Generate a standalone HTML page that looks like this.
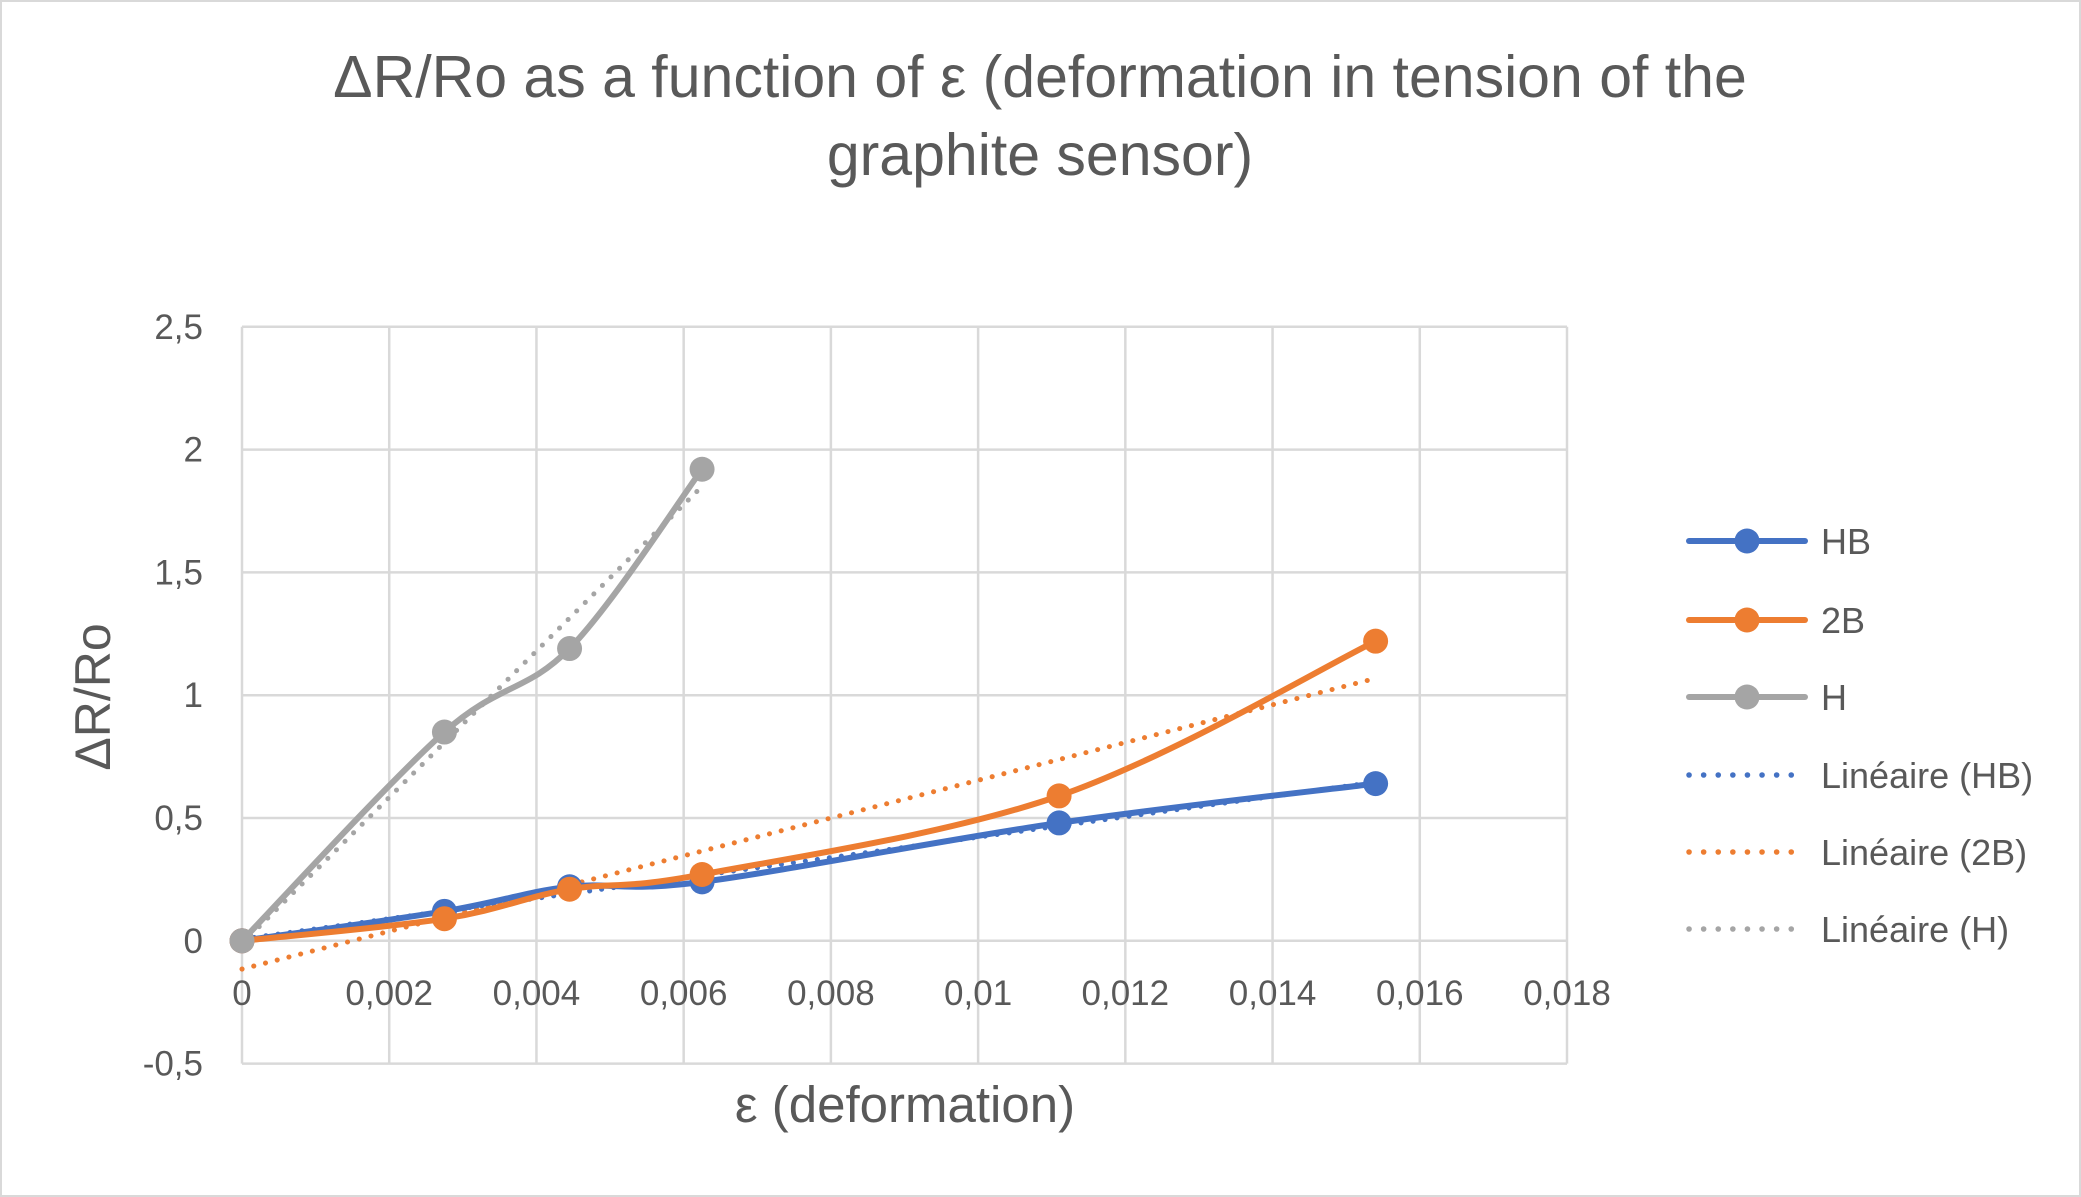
<!DOCTYPE html>
<html><head><meta charset="utf-8"><style>
html,body{margin:0;padding:0;background:#fff;}
svg{display:block;font-family:"Liberation Sans",sans-serif;}
</style></head><body>
<svg id="chart" width="2081" height="1197" viewBox="0 0 2081 1197">
<rect x="1" y="1" width="2079" height="1195" fill="#fff" stroke="#d9d9d9" stroke-width="2"/>
<text x="1040" y="97" text-anchor="middle" font-size="59" fill="#595959">ΔR/Ro as a function of ε (deformation in tension of the</text>
<text x="1040" y="175" text-anchor="middle" font-size="59" fill="#595959">graphite sensor)</text>
<g id="grid"></g>
<g id="series"></g>
<text x="905" y="1122" text-anchor="middle" font-size="51" fill="#595959">ε (deformation)</text>
<text transform="translate(110,697) rotate(-90)" text-anchor="middle" font-size="50" fill="#595959">ΔR/Ro</text>
<g id="legend"></g>
</svg>
<script>
const xTicks=[0,0.002,0.004,0.006,0.008,0.01,0.012,0.014,0.016,0.018];
const xTickLabels=["0","0,002","0,004","0,006","0,008","0,01","0,012","0,014","0,016","0,018"];
const yTicks=[-0.5,0,0.5,1,1.5,2,2.5];
const yTickLabels=["-0,5","0","0,5","1","1,5","2","2,5"];
const hbX=[0,0.00275,0.00445,0.00625,0.0111,0.0154];
const hbY=[0,0.12,0.22,0.24,0.48,0.64];
const b2X=[0,0.00275,0.00445,0.00625,0.0111,0.0154];
const b2Y=[0,0.09,0.21,0.27,0.59,1.22];
const hX=[0,0.00275,0.00445,0.00625];
const hY=[0,0.85,1.19,1.92];
const seriesNames=["HB","2B","H"];
const trendNames=["Linéaire (HB)","Linéaire (2B)","Linéaire (H)"];
const colors=["#4472c4","#ed7d31","#a5a5a5"];

const X0=242,X1=1567,Y0=940.8,YSTEP=122.8;
const sx=v=>X0+(v/0.018)*(X1-X0);
const sy=v=>Y0-(v/0.5)*YSTEP;
const NS="http://www.w3.org/2000/svg";
function mk(t,a,p){const e=document.createElementNS(NS,t);for(const k in a)e.setAttribute(k,a[k]);p.appendChild(e);return e;}
const grid=document.getElementById('grid'),ser=document.getElementById('series'),leg=document.getElementById('legend');
xTicks.forEach((t,i)=>{
 const l=mk('line',{x1:sx(t),x2:sx(t),y1:sy(2.5),y2:sy(-0.5),stroke:'#d9d9d9','stroke-width':2.5},grid);
 
 
 const tx=mk('text',{x:sx(t),y:Y0+64,'text-anchor':'middle','font-size':35,fill:'#595959'},grid);
 tx.textContent=xTickLabels[i];
 
 
});
yTicks.forEach((t,i)=>{
 const l=mk('line',{x1:sx(0),x2:sx(0.018),y1:sy(t),y2:sy(t),stroke:'#d9d9d9','stroke-width':2.5},grid);
 
 
 const tx=mk('text',{x:203,y:sy(t)+12,'text-anchor':'end','font-size':35,fill:'#595959'},grid);
 tx.textContent=yTickLabels[i];
 
 
});
function smooth(px,py){
 const P=px.map((x,i)=>[sx(x),sy(py[i])]);
 let d='M'+P[0][0]+','+P[0][1];
 for(let i=0;i<P.length-1;i++){
  const p0=P[i-1]||P[i],p1=P[i],p2=P[i+1],p3=P[i+2]||P[i+1];
  const t=1/6;
  const c1=[p1[0]+(p2[0]-p0[0])*t,p1[1]+(p2[1]-p0[1])*t];
  const c2=[p2[0]-(p3[0]-p1[0])*t,p2[1]-(p3[1]-p1[1])*t];
  d+=` C${c1[0]},${c1[1]} ${c2[0]},${c2[1]} ${p2[0]},${p2[1]}`;
 }
 return d;
}
function fit(xs,ys){const n=xs.length;const mx=xs.reduce((a,b)=>a+b)/n,my=ys.reduce((a,b)=>a+b)/n;let sxy=0,sxx=0;xs.forEach((x,i)=>{sxy+=(x-mx)*(ys[i]-my);sxx+=(x-mx)*(x-mx);});const m=sxy/sxx;return [m,my-m*mx];}
const data=[[hbX,hbY],[b2X,b2Y],[hX,hY]];
data.forEach(([xs,ys],k)=>{
 const [m,b]=fit(xs,ys);const xe=xs[xs.length-1];
 const l=mk('line',{x1:sx(0),y1:sy(b),x2:sx(xe),y2:sy(m*xe+b),stroke:colors[k],'stroke-width':5,'stroke-dasharray':'0.1 12','stroke-linecap':'round'},ser);
 
 
});
data.forEach(([xs,ys],k)=>{
 const p=mk('path',{d:smooth(xs,ys),fill:'none',stroke:colors[k],'stroke-width':6,'stroke-linecap':'round'},ser);
 
 
 xs.forEach((x,i)=>{
  const c=mk('circle',{cx:sx(x),cy:sy(ys[i]),r:12.5,fill:colors[k]},ser);
  
  
 });
});
const rows=[541,620,697,775,852,929];
rows.forEach((y,i)=>{
 const k=i%3,dot=i>=3;
 const g=mk('g',{},leg);
 
 
 if(dot){mk('line',{x1:1689,x2:1805,y1:y,y2:y,stroke:colors[k],'stroke-width':5.5,'stroke-dasharray':'0.1 14.5','stroke-linecap':'round'},g);}
 else{mk('line',{x1:1689,x2:1805,y1:y,y2:y,stroke:colors[k],'stroke-width':6,'stroke-linecap':'round'},g);mk('circle',{cx:1747,cy:y,r:12.5,fill:colors[k]},g);}
 const t=mk('text',{x:1821,y:y+13,'font-size':36,fill:'#595959'},g);
 t.textContent=dot?trendNames[k]:seriesNames[k];
});
</script>
</body></html>
